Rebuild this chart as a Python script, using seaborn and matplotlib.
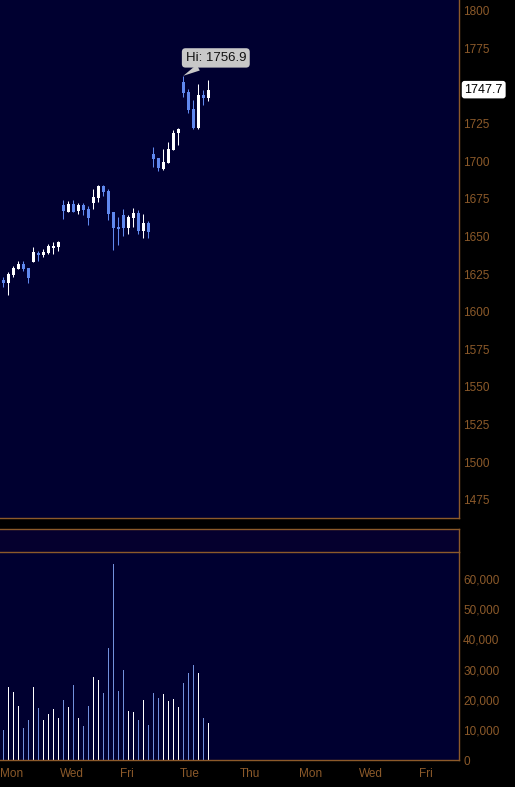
import matplotlib
matplotlib.use("Agg")
import matplotlib.pyplot as plt
import matplotlib.transforms as mtransforms
import seaborn as sns
import pandas as pd
import numpy as np

# -------------------- DATOS --------------------
# barras intradia (6 por dia), precios
opens = [1621.3, 1619.1, 1624.5, 1628.5, 1631.8, 1629.1, 1633.1, 1639.1, 1637.8, 1639.1, 1642.4, 1643.1,
         1671.0, 1666.4, 1671.7, 1667.0, 1671.0, 1668.4, 1672.3, 1675.7, 1683.6, 1680.3, 1666.4, 1656.4,
         1664.4, 1655.7, 1662.4, 1665.7, 1653.7, 1659.0, 1704.9, 1702.3, 1694.9, 1698.9, 1707.6, 1718.9,
         1752.8, 1746.1, 1734.8, 1722.2, 1744.1, 1742.2]
highs = [1623.3, 1626.5, 1630.5, 1633.8, 1633.8, 1629.1, 1643.1, 1640.4, 1641.8, 1645.1, 1646.4, 1647.1,
         1674.3, 1673.7, 1674.3, 1672.3, 1672.3, 1670.3, 1681.6, 1684.3, 1684.3, 1681.6, 1666.4, 1663.0,
         1668.4, 1664.4, 1669.0, 1667.7, 1665.0, 1660.4, 1709.6, 1702.3, 1708.2, 1712.9, 1720.9, 1722.2,
         1756.9, 1748.1, 1740.8, 1751.5, 1747.5, 1754.1]
lows = [1616.7, 1611.2, 1623.3, 1628.5, 1627.1, 1619.1, 1633.1, 1633.8, 1636.4, 1638.4, 1638.4, 1640.4,
        1661.7, 1666.4, 1666.4, 1665.0, 1664.4, 1657.7, 1668.4, 1673.0, 1677.0, 1661.0, 1641.1, 1644.4,
        1650.4, 1651.7, 1656.4, 1651.7, 1649.1, 1649.1, 1696.3, 1693.6, 1694.3, 1698.9, 1707.6, 1710.9,
        1742.8, 1732.2, 1721.5, 1721.5, 1737.5, 1740.2]
closes = [1619.1, 1625.1, 1629.1, 1631.8, 1628.5, 1622.5, 1639.8, 1637.8, 1639.8, 1643.7, 1643.7, 1646.4,
          1667.0, 1671.7, 1666.4, 1671.0, 1667.7, 1662.4, 1676.3, 1683.6, 1679.7, 1665.0, 1655.7, 1655.1,
          1655.7, 1663.0, 1665.7, 1653.7, 1659.0, 1653.1, 1701.6, 1695.6, 1699.6, 1708.2, 1718.9, 1721.5,
          1745.5, 1734.2, 1722.2, 1744.1, 1742.2, 1747.7]
volumes = [9900, 24100, 22400, 17800, 10600, 13200, 24100, 17200, 13200, 15200, 16800, 13900,
           19800, 17500, 24800, 13900, 11200, 17800, 27700, 26400, 22100, 37300, 65000, 22800,
           30000, 16200, 15800, 13200, 19800, 11600, 22100, 20500, 21800, 19500, 20100, 17500,
           25400, 29000, 31400, 28700, 13900, 12200]

day_labels = ["Mon", "Wed", "Fri", "Tue", "Thu", "Mon", "Wed", "Fri"]
day_pos = [-0.6, 11.4, 23.3, 35.3, 47.2, 59.2, 71.1, 83.1]

# 1750 queda tapado por la caja del ultimo precio
price_ticks = [1475, 1500, 1525, 1550, 1575, 1600, 1625, 1650, 1675, 1700, 1725, 1775, 1800]
vol_ticks = list(range(0, 60001, 10000))

hi_value = 1756.9
last_value = 1747.7

# -------------------- ESTILO --------------------
bg = "#000030"
orange = "#8c5a2a"
blue = "#6088ee"

sns.set_style("dark")
plt.rcParams["font.family"] = ["Liberation Sans", "DejaVu Sans"]

df = pd.DataFrame({"idx": np.arange(len(opens)), "open": opens, "high": highs,
                   "low": lows, "close": closes, "vol": volumes})
df["dir"] = np.where(df["close"] >= df["open"], "up", "down")
pal = {"up": "white", "down": blue}

fig = plt.figure(figsize=(5.15, 7.87), dpi=100, facecolor="black")
ax_p = fig.add_axes([0, 0.3418, 0.8913, 0.6582])
ax_e = fig.add_axes([0, 0.2986, 0.8913, 0.0292])
ax_v = fig.add_axes([0, 0.0343, 0.8913, 0.2643])

xmin, xmax = -0.66, 91.14

# -------------------- VELAS --------------------
cols = list(df["dir"].map(pal))
ax_p.vlines(df["idx"], df["low"], df["high"], colors=cols, linewidth=0.75)
body_h = np.maximum((df["close"] - df["open"]).abs(), 0.5)
ax_p.bar(df["idx"], body_h, bottom=np.minimum(df["open"], df["close"]),
         width=0.6, color=cols, linewidth=0)

ax_p.set_xlim(xmin, xmax)
ax_p.set_ylim(1462.9, 1807.3)
ax_p.set_yticks(price_ticks)
ax_p.set_xticks([])

# etiqueta del maximo
hi_i = int(np.argmax(highs))
ax_p.annotate(f"Hi: {hi_value}", xy=(hi_i, hi_value), xytext=(42.5, 1768.8),
              textcoords="data", ha="center", va="center", fontsize=9.5, color="#111111",
              bbox=dict(boxstyle="round,pad=0.28", fc="#c8c8c8", ec="none"),
              arrowprops=dict(arrowstyle="wedge,tail_width=0.5", fc="#c8c8c8", ec="none",
                              shrinkA=0, shrinkB=0))

# ultimo precio
trans = mtransforms.blended_transform_factory(ax_p.transAxes, ax_p.transData)
ax_p.text(1.012, last_value, f"{last_value}", transform=trans, ha="left", va="center",
          fontsize=9, color="black", zorder=10,
          bbox=dict(boxstyle="round,pad=0.22", fc="white", ec="none"))

# -------------------- VOLUMEN --------------------
sns.barplot(data=df, x="idx", y="vol", hue="dir", palette=pal, native_scale=True,
            dodge=False, width=0.2, linewidth=0, errorbar=None, legend=False,
            antialiased=False, ax=ax_v)
ax_v.set_xlim(xmin, xmax)
ax_v.set_ylim(0, 69000)
ax_v.set_yticks(vol_ticks)
ax_v.set_yticklabels([f"{v:,}" for v in vol_ticks])
ax_v.set_xticks(day_pos)
ax_v.set_xticklabels(day_labels, ha="left")
ax_v.set_xlabel("")
ax_v.set_ylabel("")

ax_e.set_xlim(xmin, xmax)
ax_e.set_xticks([])
ax_e.set_yticks([])

# -------------------- EJES --------------------
for ax, face in [(ax_p, bg), (ax_e, "#05002e"), (ax_v, bg)]:
    ax.set_facecolor(face)
    ax.grid(False)
    ax.yaxis.tick_right()
    ax.tick_params(axis="both", length=0, colors=orange, labelsize=8.5)
    ax.tick_params(axis="y", pad=3)
    ax.tick_params(axis="x", pad=6)
    for s in ax.spines.values():
        s.set_visible(False)
        s.set_color(orange)
        s.set_linewidth(1.0)

ax_p.spines["right"].set_visible(True)
ax_p.spines["bottom"].set_visible(True)
ax_e.spines["right"].set_visible(True)
ax_e.spines["top"].set_visible(True)
ax_v.spines["top"].set_visible(True)
ax_v.spines["right"].set_visible(True)
ax_v.spines["bottom"].set_visible(True)

fig.savefig("out.png", dpi=100, facecolor="black")
